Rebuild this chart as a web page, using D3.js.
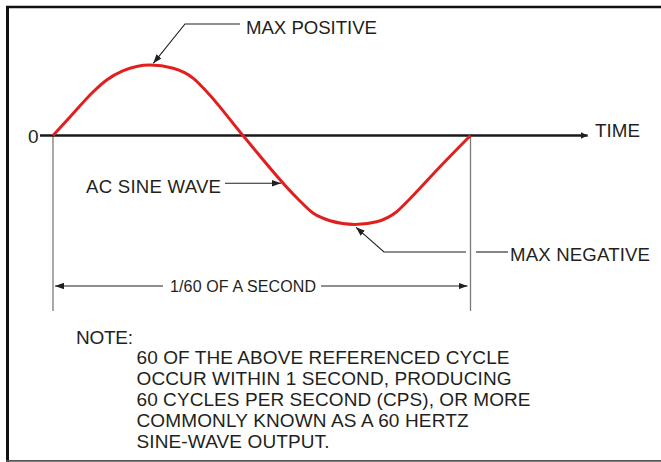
<!DOCTYPE html>
<html>
<head>
<meta charset="utf-8">
<script src="https://cdn.jsdelivr.net/npm/d3@7"></script>
<style>
    body { margin: 0; background: #ffffff; }
    text { font-family: "Liberation Sans", Arial, sans-serif; fill: #231f20; }
</style>
</head>
<body>
<div id="wave"></div>
<script>
var svgWidth = 661;
var svgHeight = 462;

// one cycle, phase in degrees, amplitude relative to the positive peak
var phaseDeg  = [0, 17.2, 34.5, 46.3, 60.6, 83.6, 103.7, 121, 132.8, 163.8, 210.4, 224.5, 238.9, 260.4, 279.1, 296.4, 308.4, 333.7, 360];
var amplitude = [0, 0.309, 0.617, 0.787, 0.919, 1.0, 0.953, 0.811, 0.617, 0, -0.887, -1.104, -1.209, -1.262, -1.223, -1.081, -0.887, -0.443, 0];

var axisLabels = ["0", "TIME"];
var calloutLabels = ["MAX POSITIVE", "AC SINE WAVE", "MAX NEGATIVE"];
var periodLabel = "1/60 OF A SECOND";
var noteTitle = "NOTE:";
var noteLines = [
    "60 OF THE ABOVE REFERENCED CYCLE",
    "OCCUR WITHIN 1 SECOND, PRODUCING",
    "60 CYCLES PER SECOND (CPS), OR MORE",
    "COMMONLY KNOWN AS A 60 HERTZ",
    "SINE-WAVE OUTPUT."
];
var noteWidths = [373, 375, 394, 332, 193];

var svg = d3.select( "#wave")
    .append( "svg")
    .attr( "width", svgWidth)
    .attr( "height", svgHeight);

svg.append( "rect")
    .attr( "width", svgWidth)
    .attr( "height", svgHeight)
    .attr( "fill", "#ffffff");

var defs = svg.append( "defs");

function addArrow( id, len, wid) {
    defs.append( "marker")
        .attr( "id", id)
        .attr( "markerUnits", "userSpaceOnUse")
        .attr( "markerWidth", len)
        .attr( "markerHeight", wid)
        .attr( "refX", len)
        .attr( "refY", wid / 2)
        .attr( "orient", "auto")
        .append( "path")
        .attr( "d", `M0,0 L${len},${wid / 2} L0,${wid} Z`)
        .attr( "fill", "#231f20");
}
addArrow( "tip", 9, 6.5);
addArrow( "axisTip", 7, 7);

var xScale = d3.scaleLinear()
    .domain([0, 360])
    .range([53, 470.5]);

var yScale = d3.scaleLinear()
    .domain([0, 1])
    .range([135.5, 65]);

// frame
svg.append( "line")
    .attr( "x1", 6).attr( "y1", 7).attr( "x2", svgWidth).attr( "y2", 7)
    .attr( "stroke", "#111").attr( "stroke-width", 2.6);
svg.append( "line")
    .attr( "x1", 7.5).attr( "y1", 6).attr( "x2", 7.5).attr( "y2", svgHeight)
    .attr( "stroke", "#111").attr( "stroke-width", 3);
svg.append( "line")
    .attr( "x1", 6).attr( "y1", 460.8).attr( "x2", svgWidth).attr( "y2", 460.8)
    .attr( "stroke", "#555").attr( "stroke-width", 1.8);

// extension lines for one period
var chartGroup = svg.append( "g");

chartGroup.selectAll( "line.ext")
    .data([0, 360])
    .enter()
    .append( "line")
    .attr( "class", "ext")
    .attr( "x1", d => xScale(d))
    .attr( "x2", d => xScale(d))
    .attr( "y1", yScale(0))
    .attr( "y2", 311)
    .attr( "stroke", "#7a7a7a")
    .attr( "stroke-width", 1.3);

// time axis
chartGroup.append( "line")
    .attr( "x1", xScale(-11.2))
    .attr( "x2", xScale(461))
    .attr( "y1", yScale(0))
    .attr( "y2", yScale(0))
    .attr( "stroke", "#1a1a1a")
    .attr( "stroke-width", 2.6)
    .attr( "marker-end", "url(#axisTip)");

chartGroup.append( "text")
    .attr( "x", 28)
    .attr( "y", 142.5)
    .style( "font-size", "19px")
    .text( axisLabels[0]);

chartGroup.append( "text")
    .attr( "x", 595)
    .attr( "y", 137)
    .style( "font-size", "18.8px")
    .attr( "textLength", 45)
    .text( axisLabels[1]);

// the wave
var waveData = phaseDeg.map( (d, i) => ({ x: d, y: amplitude[i] }));

var createLine = d3.line()
    .x( d => xScale(d.x))
    .y( d => yScale(d.y))
    .curve( d3.curveMonotoneX);

chartGroup.append( "path")
    .attr( "d", createLine( waveData))
    .attr( "fill", "none")
    .attr( "stroke", "#e0201f")
    .attr( "stroke-width", 3)
    .attr( "stroke-linejoin", "round");

// callouts
var leader = { stroke: "#231f20", width: 1.1 };

svg.append( "polyline")
    .attr( "points", `240,24 185,24 ${xScale(86.5)},${yScale(1.024)}`)
    .attr( "fill", "none")
    .attr( "stroke", leader.stroke)
    .attr( "stroke-width", leader.width)
    .attr( "marker-end", "url(#tip)");

svg.append( "text")
    .attr( "x", 246)
    .attr( "y", 34)
    .style( "font-size", "18.6px")
    .attr( "textLength", 131)
    .text( calloutLabels[0]);

svg.append( "text")
    .attr( "x", 86)
    .attr( "y", 192.5)
    .style( "font-size", "18.6px")
    .attr( "textLength", 135)
    .text( calloutLabels[1]);

svg.append( "line")
    .attr( "x1", 225).attr( "y1", 183.3).attr( "x2", 281).attr( "y2", 183.3)
    .attr( "stroke", leader.stroke)
    .attr( "stroke-width", leader.width)
    .attr( "marker-end", "url(#tip)");

svg.append( "polyline")
    .attr( "points", `466,252 384,252 ${xScale(261.3)},${yScale(-1.302)}`)
    .attr( "fill", "none")
    .attr( "stroke", leader.stroke)
    .attr( "stroke-width", leader.width)
    .attr( "marker-end", "url(#tip)");

svg.append( "line")
    .attr( "x1", 476).attr( "y1", 252).attr( "x2", 508).attr( "y2", 252)
    .attr( "stroke", leader.stroke)
    .attr( "stroke-width", leader.width);

svg.append( "text")
    .attr( "x", 510)
    .attr( "y", 260.5)
    .style( "font-size", "18.6px")
    .attr( "textLength", 140)
    .text( calloutLabels[2]);

// period dimension
svg.append( "line")
    .attr( "x1", 163).attr( "y1", 286).attr( "x2", xScale(0) + 2).attr( "y2", 286)
    .attr( "stroke", leader.stroke)
    .attr( "stroke-width", leader.width)
    .attr( "marker-end", "url(#tip)");

svg.append( "line")
    .attr( "x1", 321).attr( "y1", 286).attr( "x2", xScale(360) - 3).attr( "y2", 286)
    .attr( "stroke", leader.stroke)
    .attr( "stroke-width", leader.width)
    .attr( "marker-end", "url(#tip)");

svg.append( "text")
    .attr( "x", 170)
    .attr( "y", 292)
    .style( "font-size", "16px")
    .attr( "textLength", 146)
    .text( periodLabel);

// note
svg.append( "text")
    .attr( "x", 76)
    .attr( "y", 344)
    .style( "font-size", "19px")
    .attr( "textLength", 57)
    .text( noteTitle);

svg.selectAll( "text.note")
    .data( noteLines)
    .enter()
    .append( "text")
    .attr( "class", "note")
    .attr( "x", 136.5)
    .attr( "y", (d, i) => 364.3 + i * 20.8)
    .style( "font-size", "19px")
    .attr( "textLength", (d, i) => noteWidths[i])
    .text( d => d);
</script>
</body>
</html>
